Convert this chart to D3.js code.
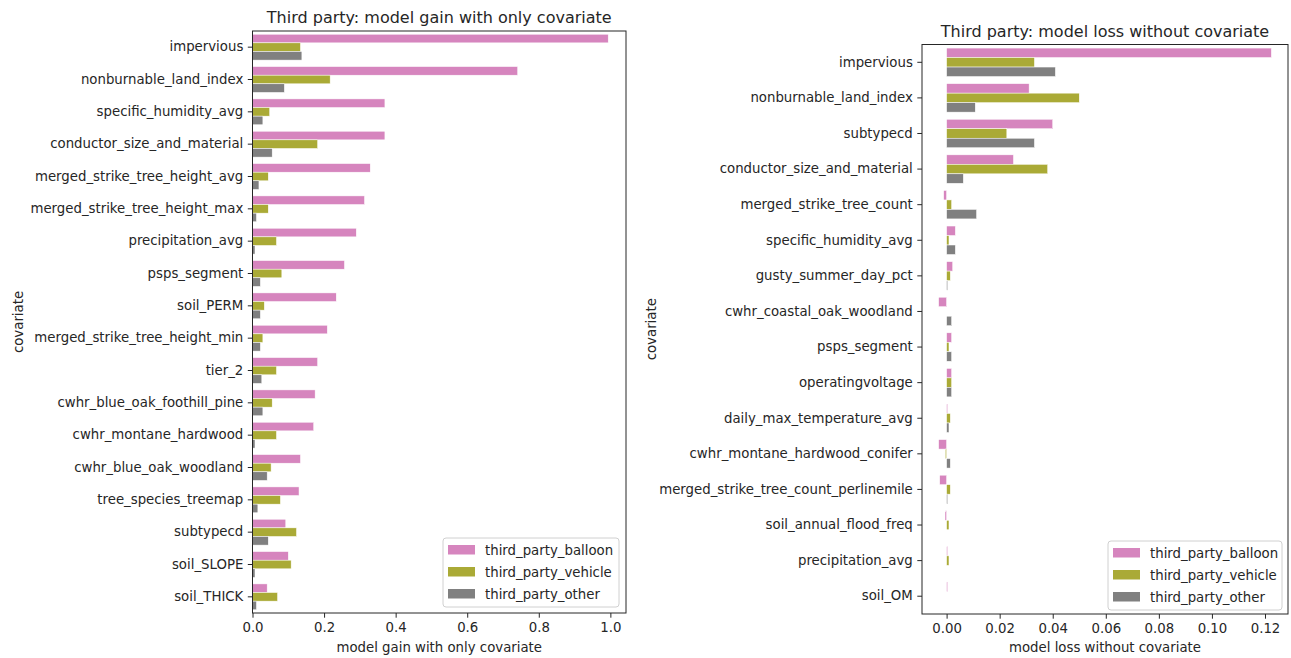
<!DOCTYPE html>
<html>
<head>
<meta charset="utf-8">
<script src="https://cdn.jsdelivr.net/npm/d3@7"></script>
<style>
  body { margin: 0; background: #fff; }
  svg { font-family: "DejaVu Sans", sans-serif; }
</style>
</head>
<body>
<svg id="chart" width="1291" height="658"></svg>
<script>
// Series names (hue levels)
const seriesNames = ["third_party_balloon", "third_party_vehicle", "third_party_other"];
const seriesColors = ["#d685be", "#aaaa36", "#808080"];

// Left panel: model gain with only covariate
const gainCovariates = [
    "impervious", "nonburnable_land_index", "specific_humidity_avg", "conductor_size_and_material",
    "merged_strike_tree_height_avg", "merged_strike_tree_height_max", "precipitation_avg", "psps_segment",
    "soil_PERM", "merged_strike_tree_height_min", "tier_2", "cwhr_blue_oak_foothill_pine",
    "cwhr_montane_hardwood", "cwhr_blue_oak_woodland", "tree_species_treemap", "subtypecd",
    "soil_SLOPE", "soil_THICK"
];
const gainBalloon = [0.994, 0.741, 0.370, 0.370, 0.329, 0.313, 0.290, 0.257, 0.234, 0.209, 0.182, 0.175, 0.171, 0.134, 0.130, 0.093, 0.100, 0.041];
const gainVehicle = [0.134, 0.217, 0.048, 0.182, 0.044, 0.044, 0.067, 0.082, 0.033, 0.029, 0.067, 0.055, 0.067, 0.052, 0.078, 0.123, 0.108, 0.070];
const gainOther   = [0.138, 0.089, 0.029, 0.055, 0.018, 0.011, 0.007, 0.022, 0.022, 0.022, 0.026, 0.029, 0.007, 0.041, 0.015, 0.044, 0.007, 0.011];
const gainTicks = [0, 0.2, 0.4, 0.6, 0.8, 1.0];

// Right panel: model loss without covariate
const lossCovariates = [
    "impervious", "nonburnable_land_index", "subtypecd", "conductor_size_and_material",
    "merged_strike_tree_count", "specific_humidity_avg", "gusty_summer_day_pct", "cwhr_coastal_oak_woodland",
    "psps_segment", "operatingvoltage", "daily_max_temperature_avg", "cwhr_montane_hardwood_conifer",
    "merged_strike_tree_count_perlinemile", "soil_annual_flood_freq", "precipitation_avg", "soil_OM"
];
const lossBalloon = [0.1224, 0.0311, 0.0400, 0.0252, -0.0011, 0.0033, 0.0023, -0.0030, 0.0019, 0.0019, 0.0004, -0.0030, -0.0026, -0.0006, 0.0004, 0.0004];
const lossVehicle = [0.0331, 0.0500, 0.0227, 0.0381, 0.0019, 0.0009, 0.0014, 0.0000, 0.0009, 0.0019, 0.0014, -0.0005, 0.0014, 0.0009, 0.0009, 0.0000];
const lossOther   = [0.0410, 0.0108, 0.0331, 0.0063, 0.0113, 0.0033, 0.0004, 0.0019, 0.0019, 0.0019, 0.0009, 0.0014, 0.0004, 0.0000, 0.0000, 0.0000];
const lossTicks = [0, 0.02, 0.04, 0.06, 0.08, 0.10, 0.12];

const svg = d3.select("#chart");
const textColor = "#262626";
const fontSize = "13.3px";

function drawPanel(opt) {
    const g = svg.append("g");
    const w = opt.x1 - opt.x0;
    const h = opt.y1 - opt.y0;

    // build rows from the arrays
    const rows = opt.cats.map((c, i) => ({
        cat: c,
        vals: opt.series.map((s, j) => ({ name: seriesNames[j], value: s[i], idx: j }))
    }));

    // matplotlib-style 5% margins around data range (sticky at 0)
    const all = opt.series.flat();
    const lo = Math.min(0, d3.min(all)), hi = d3.max(all);
    const pad = (hi - lo) * 0.05;
    const xScale = d3.scaleLinear()
        .domain([lo < 0 ? lo - pad : 0, hi + pad])
        .range([opt.x0, opt.x1]);

    const yScale = d3.scaleBand()
        .domain(opt.cats)
        .range([opt.y0, opt.y1])
        .paddingInner(0.2)
        .paddingOuter(0.1);

    const hueScale = d3.scaleBand()
        .domain(seriesNames)
        .range([0, yScale.bandwidth()]);

    // bars
    g.selectAll(".row")
        .data(rows)
        .enter().append("g")
        .attr("transform", d => "translate(0," + yScale(d.cat) + ")")
        .selectAll("rect")
        .data(d => d.vals)
        .enter().append("rect")
        .attr("x", d => xScale(Math.min(0, d.value)))
        .attr("y", d => hueScale(d.name))
        .attr("width", d => Math.abs(xScale(d.value) - xScale(0)))
        .attr("height", hueScale.bandwidth())
        .attr("fill", d => seriesColors[d.idx])
        .attr("stroke", "#fff")
        .attr("stroke-width", 0.5);

    // axes
    const xAxis = d3.axisBottom(xScale)
        .tickValues(opt.ticks)
        .tickFormat(opt.fmt)
        .tickSize(4.7)
        .tickPadding(4.5)
        .tickSizeOuter(0);
    const xg = g.append("g")
        .attr("transform", "translate(0," + opt.y1 + ")")
        .call(xAxis);
    xg.select(".domain").remove();
    xg.selectAll(".tick line").attr("stroke", textColor);
    xg.selectAll(".tick text")
        .attr("font-family", "DejaVu Sans")
        .style("font-size", fontSize)
        .attr("fill", textColor);

    const yg = g.append("g")
        .attr("transform", "translate(" + opt.x0 + ",0)")
        .call(d3.axisLeft(yScale).tickSize(4.7).tickPadding(4.5).tickSizeOuter(0));
    yg.select(".domain").remove();
    yg.selectAll(".tick line").attr("stroke", textColor);
    yg.selectAll(".tick text")
        .attr("font-family", "DejaVu Sans")
        .style("font-size", fontSize)
        .attr("fill", textColor);

    // frame (spines)
    g.append("rect")
        .attr("x", opt.x0).attr("y", opt.y0)
        .attr("width", w).attr("height", h)
        .attr("fill", "none")
        .attr("stroke", textColor)
        .attr("stroke-width", 1);

    // title and labels
    g.append("text")
        .attr("x", (opt.x0 + opt.x1) / 2)
        .attr("y", opt.y0 - 8)
        .attr("text-anchor", "middle")
        .style("font-size", "16px")
        .style("fill", textColor)
        .text(opt.title);

    g.append("text")
        .attr("x", (opt.x0 + opt.x1) / 2)
        .attr("y", 652)
        .attr("text-anchor", "middle")
        .style("font-size", fontSize)
        .style("fill", textColor)
        .text(opt.xLabel);

    g.append("text")
        .attr("transform", "translate(" + opt.yLabelX + "," + ((opt.y0 + opt.y1) / 2) + ") rotate(-90)")
        .attr("text-anchor", "middle")
        .style("font-size", fontSize)
        .style("fill", textColor)
        .text("covariate");

    // legend
    const lg = g.append("g").attr("transform", "translate(" + opt.legend[0] + "," + opt.legend[1] + ")");
    lg.append("rect")
        .attr("width", opt.legendW).attr("height", 69)
        .attr("rx", 3)
        .attr("fill", "#fff")
        .attr("fill-opacity", 0.8)
        .attr("stroke", "#d0d0d0");
    seriesNames.forEach((s, i) => {
        lg.append("rect")
            .attr("x", 5).attr("y", 7 + i * 22)
            .attr("width", 27).attr("height", 9.5)
            .attr("fill", seriesColors[i]);
        lg.append("text")
            .attr("x", 42).attr("y", 12 + i * 22)
            .attr("dy", "0.35em")
            .style("font-size", fontSize)
            .style("fill", textColor)
            .text(s);
    });
}

drawPanel({
    cats: gainCovariates,
    series: [gainBalloon, gainVehicle, gainOther],
    ticks: gainTicks,
    fmt: d3.format(".1f"),
    x0: 252.5, x1: 626, y0: 31, y1: 613,
    title: "Third party: model gain with only covariate",
    xLabel: "model gain with only covariate",
    yLabelX: 23,
    legend: [443, 538],
    legendW: 176
});

drawPanel({
    cats: lossCovariates,
    series: [lossBalloon, lossVehicle, lossOther],
    ticks: lossTicks,
    fmt: d3.format(".2f"),
    x0: 922, x1: 1288, y0: 44.5, y1: 614,
    title: "Third party: model loss without covariate",
    xLabel: "model loss without covariate",
    yLabelX: 656,
    legend: [1108, 541],
    legendW: 174
});
</script>
</body>
</html>
